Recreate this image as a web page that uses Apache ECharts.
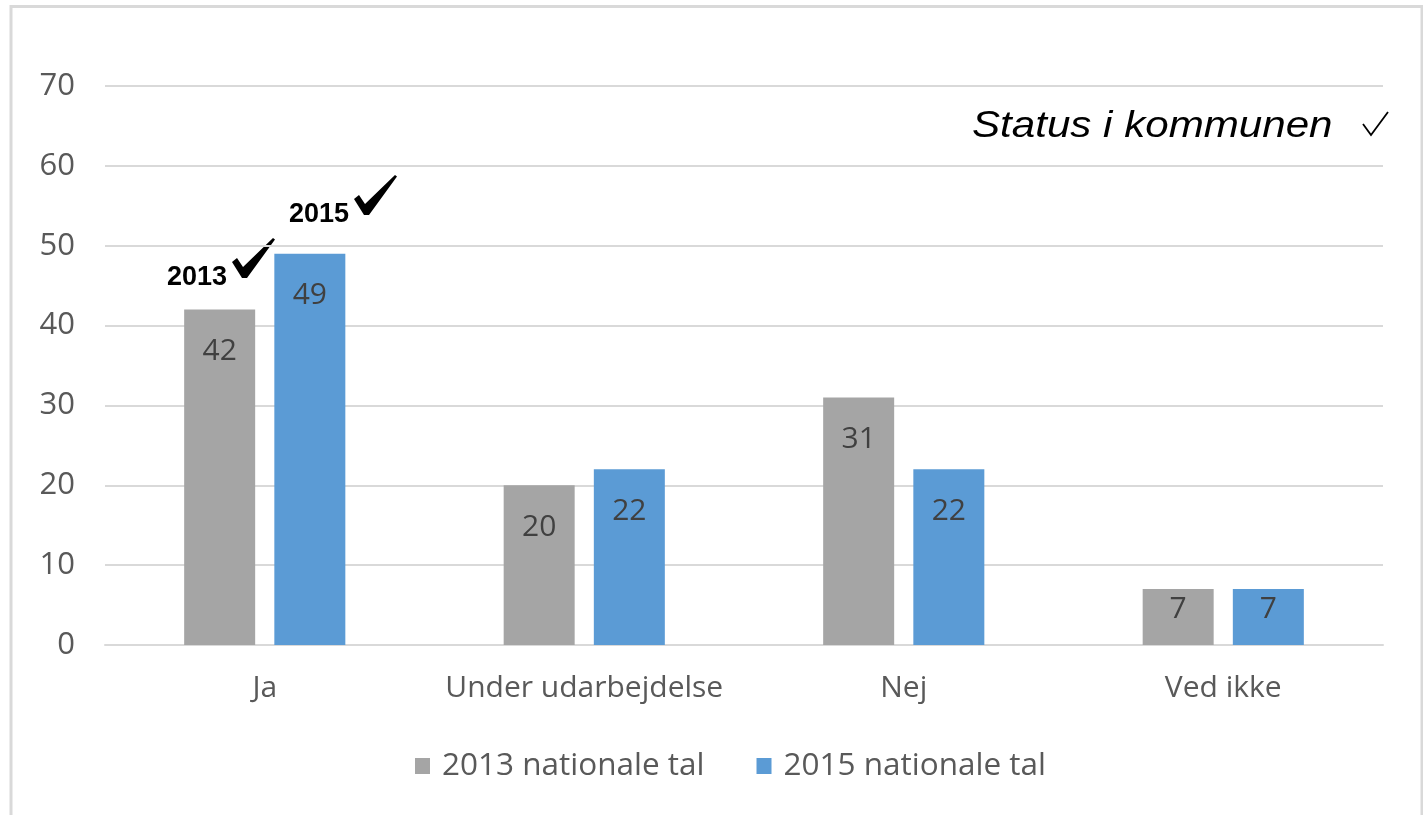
<!DOCTYPE html>
<html>
<head>
<meta charset="utf-8">
<script src="https://cdn.jsdelivr.net/npm/echarts@6/dist/echarts.min.js"></script>
<style>
  html, body { margin: 0; padding: 0; background: #fff; }
  #chart { width: 1423px; height: 815px; }
</style>
</head>
<body>
<div id="chart"></div>
<script>
// data
const categories = ['Ja', 'Under udarbejdelse', 'Nej', 'Ved ikke']
const values2013 = [42, 20, 31, 7]
const values2015 = [49, 22, 22, 7]
const seriesNames = ['2013 nationale tal', '2015 nationale tal']

const AXIS_FONT = '"Open Sans", "Noto Sans", sans-serif'
const GRAY = '#a5a5a5'
const BLUE = '#5b9bd5'

// labels sit a bit lower inside the tall bars, like in Excel
function toItems(arr) {
  return arr.map(v => ({
    value: v,
    label: { distance: v < 10 ? 5 : 27 }
  }))
}

const chartDom = document.getElementById('chart')
const myChart = echarts.init(chartDom)

// hand drawn looking check mark, local coords 43x40
function bigCheck(x, y) {
  return {
    type: 'polygon',
    x: x,
    y: y,
    shape: {
      points: [[0, 24], [5, 20], [11, 29], [41, 0], [43, 1.5], [15, 40], [10, 40]]
    },
    style: { fill: '#000' }
  }
}

const labelStyle = {
  show: true,
  position: 'insideTop',
  color: '#404040',
  fontSize: 30,
  fontFamily: AXIS_FONT
}

const option = {
  animation: false,
  backgroundColor: '#fff',
  grid: { left: 105, right: 40, top: 86, bottom: 170, containLabel: false },
  legend: {
    data: seriesNames,
    left: 410,
    top: 745,
    itemWidth: 15,
    itemHeight: 16,
    itemGap: 52,
    icon: 'rect',
    textStyle: {
      color: '#595959',
      fontSize: 31.5,
      fontFamily: AXIS_FONT,
      padding: [0, 0, 0, 7]
    }
  },
  xAxis: {
    type: 'category',
    data: categories,
    axisLine: { show: true, lineStyle: { color: '#d9d9d9', width: 2 } },
    axisTick: { show: false },
    axisLabel: {
      interval: 0,
      color: '#595959',
      fontSize: 30,
      fontFamily: AXIS_FONT,
      margin: 28
    }
  },
  yAxis: {
    type: 'value',
    min: 0,
    max: 70,
    interval: 10,
    axisLine: { show: false },
    axisTick: { show: false },
    axisLabel: {
      color: '#595959',
      fontSize: 31,
      fontFamily: AXIS_FONT,
      margin: 30
    },
    splitLine: { lineStyle: { color: '#d9d9d9', width: 2 } }
  },
  series: [
    {
      name: seriesNames[0],
      type: 'bar',
      data: toItems(values2013),
      barWidth: 71,
      barGap: '27%',
      itemStyle: { color: GRAY },
      label: labelStyle
    },
    {
      name: seriesNames[1],
      type: 'bar',
      data: toItems(values2015),
      barWidth: 71,
      barGap: '27%',
      itemStyle: { color: BLUE },
      label: labelStyle
    }
  ],
  graphic: [
    // outer frame
    {
      type: 'rect',
      shape: { x: 11, y: 6.5, width: 1411, height: 900 },
      style: { fill: 'none', stroke: '#d9d9d9', lineWidth: 3 },
      silent: true
    },
    {
      type: 'text',
      x: 167,
      y: 278,
      style: {
        text: '2013',
        font: 'bold 27px "Liberation Sans", Arial, sans-serif',
        fill: '#000',
        verticalAlign: 'middle'
      }
    },
    bigCheck(232, 238),
    {
      type: 'text',
      x: 289,
      y: 215,
      style: {
        text: '2015',
        font: 'bold 27px "Liberation Sans", Arial, sans-serif',
        fill: '#000',
        verticalAlign: 'middle'
      }
    },
    bigCheck(354, 175),
    {
      type: 'text',
      x: 972,
      y: 127,
      scaleX: 1.17,
      style: {
        text: 'Status i kommunen',
        font: 'italic 36px "Liberation Sans", Arial, sans-serif',
        fill: '#000',
        verticalAlign: 'middle'
      }
    },
    {
      type: 'polyline',
      shape: { points: [[1363, 124], [1371, 135], [1388, 112]] },
      style: { stroke: '#000', lineWidth: 1.8, fill: 'none' }
    }
  ]
}

option && myChart.setOption(option)
</script>
</body>
</html>
